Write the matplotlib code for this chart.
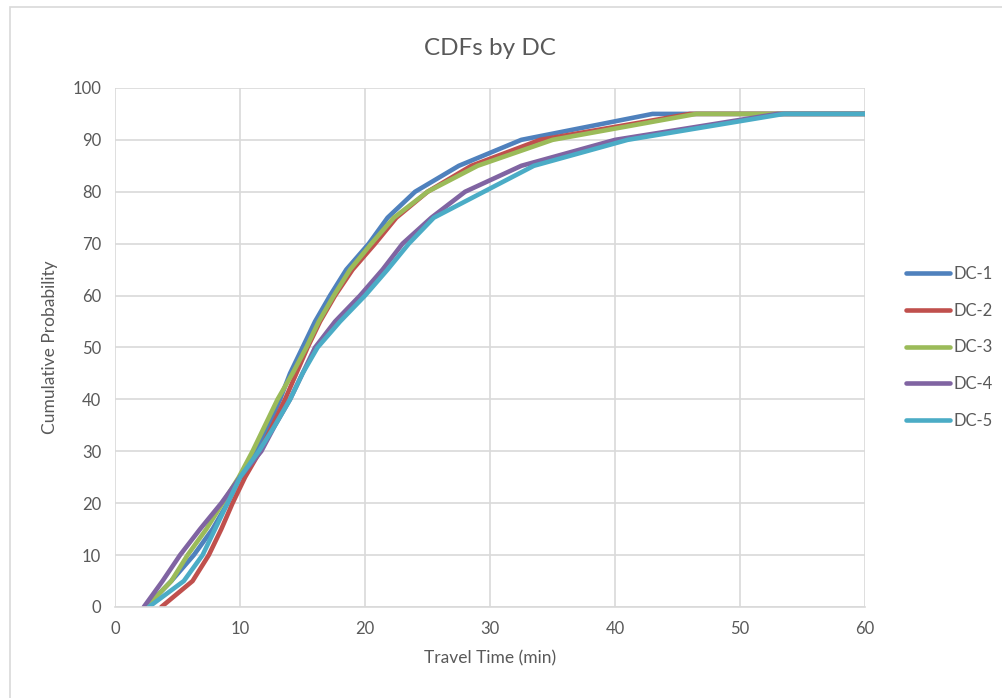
import matplotlib.pyplot as plt
from matplotlib.patches import Rectangle

plt.rcParams['font.family'] = ['Lato', 'DejaVu Sans']

# cumulative probability levels (%)
probs = [0, 5, 10, 15, 20, 25, 30, 35, 40, 45, 50, 55, 60, 65, 70, 75, 80, 85, 90, 95, 95]

# travel time (min) at each probability level
dc1 = [2.5, 4.5, 6.3, 7.8, 9.0, 10.0, 11.3, 12.3, 13.2, 14.0, 15.0, 16.0, 17.2, 18.5, 20.3, 21.8, 24.0, 27.5, 32.5, 43.0, 60]
dc2 = [3.7, 6.2, 7.5, 8.5, 9.4, 10.4, 11.6, 12.6, 13.6, 14.5, 15.4, 16.4, 17.6, 19.0, 20.8, 22.5, 25.0, 28.5, 34.0, 46.0, 60]
dc3 = [2.5, 4.5, 5.8, 7.3, 8.6, 9.9, 11.0, 12.0, 13.0, 14.2, 15.3, 16.3, 17.5, 18.8, 20.5, 22.3, 25.0, 29.0, 35.0, 46.5, 60]
dc4 = [2.3, 3.8, 5.2, 6.8, 8.5, 10.0, 11.7, 12.8, 14.0, 15.0, 16.0, 17.6, 19.6, 21.4, 23.0, 25.3, 28.0, 32.5, 40.0, 53.0, 60]
dc5 = [2.7, 5.5, 7.0, 8.0, 9.0, 10.0, 11.5, 12.8, 14.0, 15.0, 16.2, 18.0, 20.0, 21.8, 23.5, 25.5, 29.5, 33.5, 41.0, 53.5, 60]

series = [('DC-1', dc1, '#4F81BD'), ('DC-2', dc2, '#C0504D'), ('DC-3', dc3, '#9BBB59'),
          ('DC-4', dc4, '#8064A2'), ('DC-5', dc5, '#4BACC6')]

fig = plt.figure(figsize=(10.03, 6.98), dpi=100)
fig.patches.append(Rectangle((0.01, -0.01), 1.0, 1.0, transform=fig.transFigure,
                             fill=False, edgecolor='#D9D9D9', linewidth=1.2))
ax = fig.add_axes([0.1147, 0.1304, 0.7478, 0.7436])

for name, xs, col in series:
    ax.plot(xs, probs, color=col, linewidth=3.3, label=name, solid_capstyle='round')

ax.set_xlim(0, 60)
ax.set_ylim(0, 100)
ax.set_xticks(range(0, 61, 10))
ax.set_yticks(range(0, 101, 10))
ax.grid(True, color='#D9D9D9', linewidth=1.2)
ax.set_axisbelow(True)
for s in ['top', 'right', 'left']:
    ax.spines[s].set_visible(False)
ax.spines['bottom'].set_color('#D9D9D9')
ax.spines['bottom'].set_linewidth(1.2)
ax.tick_params(length=0, labelsize=12, colors='#595959', pad=10)

ax.set_xlabel('Travel Time (min)', fontsize=12.5, color='#595959', labelpad=10)
ax.set_ylabel('Cumulative Probability', fontsize=12.5, color='#595959', labelpad=10)
ax.set_title('CDFs by DC', fontsize=17.5, color='#595959', pad=24)

leg = ax.legend(loc='center left', bbox_to_anchor=(1.035, 0.5), frameon=False,
                fontsize=12, labelcolor='#595959', handlelength=2.6,
                handletextpad=0.2, labelspacing=1.25)

fig.savefig('out.png', dpi=100)
